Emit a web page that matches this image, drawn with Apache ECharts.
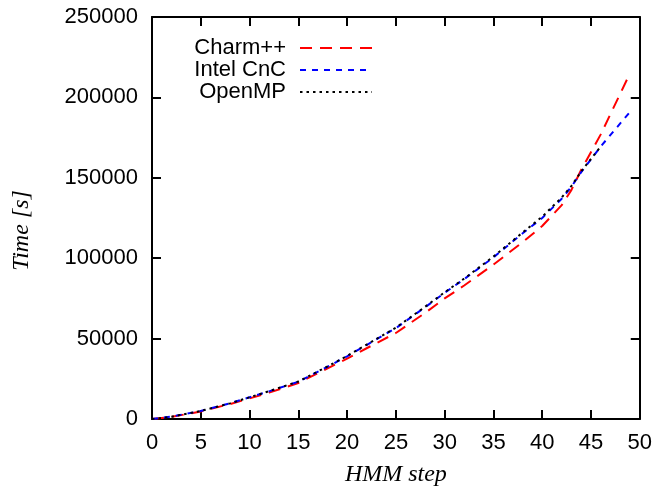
<!DOCTYPE html>
<html lang="en">
<head>
    <meta charset="UTF-8">
    <title>HMM step time</title>
    <script src="https://cdn.jsdelivr.net/npm/echarts@6/dist/echarts.min.js"></script>
    <style>
        html, body { margin: 0; padding: 0; background: #fff; }
    </style>
</head>
<body>
<div id="myChart" style="width:655px;height:492px;"></div>
<script type="text/javascript">
    // HMM steps and measured times (seconds)
    var steps = [0, 2, 5, 8, 10, 12, 15, 18, 20, 22, 25, 28, 30, 32, 35, 38, 40, 42, 43, 44, 46, 49];
    var charmTime = [0, 1300, 4700, 9300, 12800, 16400, 22400, 31500, 37500, 44000, 53500, 66000, 75000, 83000, 96000, 110000, 120000, 133000, 142500, 155000, 177000, 215000];
    var cncTime = [0, 1500, 5000, 9800, 13500, 17200, 23200, 32500, 39000, 46000, 56500, 69500, 78500, 87000, 100500, 115500, 125000, 137000, 144500, 153500, 169500, 191000];
    var ompSteps = [0, 2, 5, 8, 10, 12, 15, 18, 20, 22, 25, 28, 30, 32, 35, 38, 40, 42, 43, 44, 46];
    var ompTime = [0, 1400, 5000, 9700, 13500, 17300, 23300, 32700, 39200, 46200, 56800, 69800, 78800, 87300, 101000, 116000, 125800, 137800, 145000, 154000, 169500];

    var xTicks = {min: 0, max: 50, interval: 5};
    var yTicks = {min: 0, max: 250000, interval: 50000};

    function pairs(xs, ys) {
        var out = [];
        for (var i = 0; i < xs.length; i++) {
            out.push([xs[i], ys[i]]);
        }
        return out;
    }

    var sansFont = '"Liberation Sans", Arial, sans-serif';
    var serifFont = '"Liberation Serif", "Times New Roman", serif';
    var border = {show: true, onZero: false, lineStyle: {color: '#000', width: 2}};
    var tick = {show: true, inside: true, length: 9, lineStyle: {color: '#000', width: 2}};

    var myChart = echarts.init(document.getElementById('myChart'), null, {renderer: 'canvas'});
    var option = {
        animation: false,
        backgroundColor: '#fff',
        grid: {left: 152, right: 15, top: 17, bottom: 72},
        legend: {
            orient: 'vertical',
            left: 187,
            top: 32,
            align: 'right',
            itemWidth: 72,
            itemHeight: 10,
            itemGap: 0,
            itemStyle: {opacity: 0},
            textStyle: {fontFamily: sansFont, fontSize: 22, lineHeight: 20, color: '#000', width: 94, align: 'right', padding: [0, 9, 0, 0]},
            data: ['Charm++', 'Intel CnC', 'OpenMP']
        },
        xAxis: [{
            type: 'value',
            min: xTicks.min, max: xTicks.max, interval: xTicks.interval,
            position: 'bottom',
            name: 'HMM step',
            nameLocation: 'middle',
            nameGap: 44,
            nameTextStyle: {fontFamily: serifFont, fontStyle: 'italic', fontSize: 24, color: '#000'},
            axisLine: border,
            axisTick: tick,
            axisLabel: {fontFamily: sansFont, fontSize: 22, color: '#000', margin: 13},
            splitLine: {show: false}
        }, {
            type: 'value',
            min: xTicks.min, max: xTicks.max, interval: xTicks.interval,
            position: 'top',
            axisLine: border,
            axisTick: tick,
            axisLabel: {show: false},
            splitLine: {show: false}
        }],
        yAxis: [{
            type: 'value',
            min: yTicks.min, max: yTicks.max, interval: yTicks.interval,
            position: 'left',
            name: 'Time [s]',
            nameLocation: 'middle',
            nameGap: 118,
            nameTextStyle: {fontFamily: serifFont, fontStyle: 'italic', fontSize: 24, color: '#000', padding: [0, 25, 0, 0]},
            axisLine: border,
            axisTick: tick,
            axisLabel: {
                fontFamily: sansFont, fontSize: 22, color: '#000', margin: 14,
                formatter: function (v) { return String(v); }
            },
            splitLine: {show: false}
        }, {
            type: 'value',
            min: yTicks.min, max: yTicks.max, interval: yTicks.interval,
            position: 'right',
            axisLine: border,
            axisTick: tick,
            axisLabel: {show: false},
            splitLine: {show: false}
        }],
        series: [{
            name: 'Charm++',
            type: 'line',
            symbol: 'none',
            data: pairs(steps, charmTime),
            lineStyle: {color: '#ff0000', width: 2, type: [12, 8]},
            itemStyle: {color: '#ff0000'},
            z: 3
        }, {
            name: 'Intel CnC',
            type: 'line',
            symbol: 'none',
            data: pairs(steps, cncTime),
            lineStyle: {color: '#0000ff', width: 2, type: [6, 6]},
            itemStyle: {color: '#0000ff'},
            z: 4
        }, {
            name: 'OpenMP',
            type: 'line',
            symbol: 'none',
            data: pairs(ompSteps, ompTime),
            lineStyle: {color: '#000', width: 2, type: [2.5, 4]},
            itemStyle: {color: '#000'},
            z: 5
        }]
    };
    myChart.setOption(option);
</script>
</body>
</html>
